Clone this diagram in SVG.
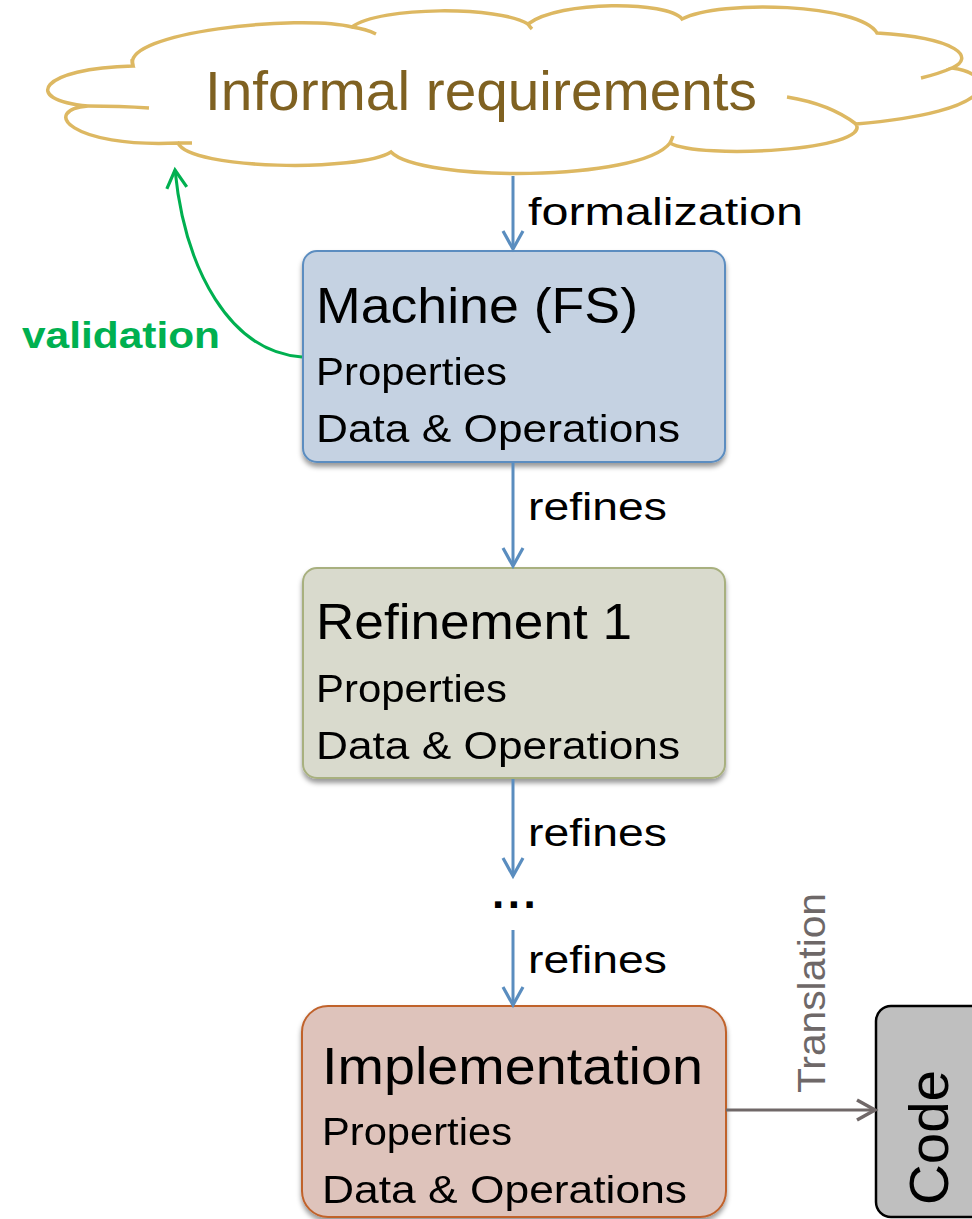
<svg xmlns="http://www.w3.org/2000/svg" width="972" height="1219" viewBox="0 0 972 1219">
<style>
.t{font-family:"Liberation Sans","Noto Sans",Arial,sans-serif;fill:#000;}
.box{stroke-width:2;}
.conn{fill:none;stroke-width:3;}
.blue{stroke:#5A8DBF;}
</style>
<defs>
<filter id="sh" x="-10%" y="-10%" width="120%" height="130%">
<feDropShadow dx="0" dy="4" stdDeviation="2.5" flood-color="#000" flood-opacity="0.4"/>
</filter>
<marker id="ab" markerUnits="userSpaceOnUse" markerWidth="26" markerHeight="26" viewBox="0 0 26 26" refX="21" refY="13" orient="auto">
<path d="M3,3 L21,13 L3,23" fill="none" stroke="#5A8DBF" stroke-width="3.2" stroke-linejoin="miter"/>
</marker>
<marker id="ag" markerUnits="userSpaceOnUse" markerWidth="26" markerHeight="26" viewBox="0 0 26 26" refX="21" refY="13" orient="auto">
<path d="M3,3 L21,13 L3,23" fill="none" stroke="#00B050" stroke-width="3.2"/>
</marker>
<marker id="ay" markerUnits="userSpaceOnUse" markerWidth="26" markerHeight="26" viewBox="0 0 26 26" refX="21" refY="13" orient="auto">
<path d="M3,3 L21,13 L3,23" fill="none" stroke="#706868" stroke-width="3.5"/>
</marker>
</defs>

<g id="cloud">
<path d="M133,66 C120,32 300,14 352,27 C380,6 500,6 528,24 C560,0 668,1 682,19 C720,-1 860,4 877,33 C960,38 975,58 952,68 C1000,75 1000,112 856,124 C872,150 700,160 670,143 C640,182 420,182 391,152 C360,172 190,170 178,143 C70,148 40,110 88,106 C20,100 40,68 133,66 Z" fill="#fff" stroke="#DDB862" stroke-width="3.5"/>
<path d="M352,27 Q366,29 376,34 M528,24 Q530,27 532,29 M952,68 Q938,74 921,78 M856,124 Q830,104 787,97 M670,143 Q672,139 673,136 M178,143 L192,143 M88,106 Q120,106 149,108 M133,66 L132,59" fill="none" stroke="#DDB862" stroke-width="3.5"/>
<text class="t" x="205" y="110" font-size="56" textLength="552" lengthAdjust="spacingAndGlyphs" style="fill:#7F6121">Informal requirements</text>
</g>

<g id="machine" filter="url(#sh)">
<rect class="box" x="303" y="251" width="422" height="211" rx="14" fill="#C5D2E2" stroke="#5B8DC0"/>
<text class="t" x="316" y="323" font-size="50" textLength="322" lengthAdjust="spacingAndGlyphs">Machine (FS)</text>
<text class="t" x="316" y="385" font-size="38" textLength="191" lengthAdjust="spacingAndGlyphs">Properties</text>
<text class="t" x="316" y="442" font-size="38" textLength="364" lengthAdjust="spacingAndGlyphs">Data &amp; Operations</text>
</g>

<g id="refinement1" filter="url(#sh)">
<rect class="box" x="303" y="568" width="422" height="210" rx="14" fill="#D9DACD" stroke="#A8B07F"/>
<text class="t" x="316" y="639" font-size="50" textLength="316" lengthAdjust="spacingAndGlyphs">Refinement 1</text>
<text class="t" x="316" y="702" font-size="38" textLength="191" lengthAdjust="spacingAndGlyphs">Properties</text>
<text class="t" x="316" y="759" font-size="38" textLength="364" lengthAdjust="spacingAndGlyphs">Data &amp; Operations</text>
</g>

<g id="implementation" filter="url(#sh)">
<rect class="box" x="302" y="1006" width="424" height="211" rx="26" fill="#DEC3BB" stroke="#C0622C"/>
<text class="t" x="322" y="1084" font-size="52" textLength="381" lengthAdjust="spacingAndGlyphs">Implementation</text>
<text class="t" x="322" y="1145" font-size="38" textLength="190" lengthAdjust="spacingAndGlyphs">Properties</text>
<text class="t" x="322" y="1203" font-size="38" textLength="365" lengthAdjust="spacingAndGlyphs">Data &amp; Operations</text>
</g>

<g id="code">
<rect x="876" y="1006" width="130" height="211" rx="15" fill="#BFBFBF" stroke="#000" stroke-width="2.5"/>
<text class="t" transform="translate(948,1205) rotate(-90)" font-size="56" textLength="135" lengthAdjust="spacingAndGlyphs">Code</text>
</g>

<g id="dots">
<text class="t" x="492" y="908" font-size="44" font-weight="bold" letter-spacing="3.5">...</text>
</g>

<g id="connectors">
<path class="conn blue" d="M513,176 L513,249" marker-end="url(#ab)"/>
<text class="t" x="528" y="225" font-size="39" textLength="275" lengthAdjust="spacingAndGlyphs">formalization</text>
<path class="conn blue" d="M513,463 L513,566" marker-end="url(#ab)"/>
<text class="t" x="528" y="520" font-size="39" textLength="139" lengthAdjust="spacingAndGlyphs">refines</text>
<path class="conn blue" d="M513,779 L513,876" marker-end="url(#ab)"/>
<text class="t" x="528" y="846" font-size="39" textLength="139" lengthAdjust="spacingAndGlyphs">refines</text>
<path class="conn blue" d="M513,930 L513,1005" marker-end="url(#ab)"/>
<text class="t" x="528" y="973" font-size="39" textLength="139" lengthAdjust="spacingAndGlyphs">refines</text>
<path class="conn" stroke="#00B050" d="M302,357 C230,352 185,270 175,170" marker-end="url(#ag)"/>
<text class="t" x="22" y="348" font-size="36" font-weight="bold" textLength="198" lengthAdjust="spacingAndGlyphs" style="fill:#00B050">validation</text>
<path class="conn" stroke="#706868" stroke-width="3.5" d="M726,1110 L875,1110" marker-end="url(#ay)"/>
<text class="t" transform="translate(825,1093) rotate(-90)" font-size="38" textLength="200" lengthAdjust="spacingAndGlyphs" style="fill:#6E6868">Translation</text>
</g>
</svg>
